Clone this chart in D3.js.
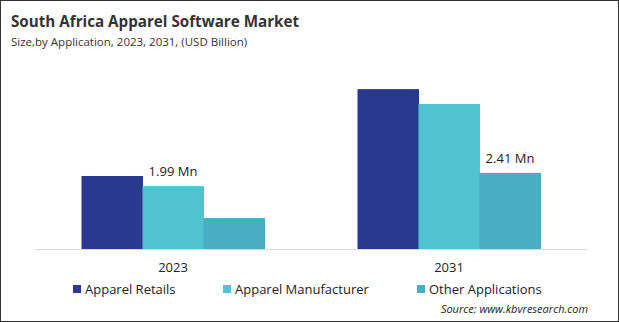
<!DOCTYPE html>
<html>
<head>
<meta charset="utf-8">
<script src="https://cdn.jsdelivr.net/npm/d3@7"></script>
<style>
  html, body { margin: 0; padding: 0; background: #fff; }
  svg { display: block; font-family: "Open Sans", "Noto Sans", sans-serif; }
</style>
</head>
<body>
<div id="chart"></div>
<script>
// Chart data
const years = ['2023', '2031']
const series = ['Apparel Retails', 'Apparel Manufacturer', 'Other Applications']
const colors = ['#293a8e', '#4fc4d0', '#49adc4']
const retails = [2.31, 5.06]
const manufacturer = [1.99, 4.59]
const other = [0.98, 2.41]
// value labels shown on the chart: [yearIndex, seriesIndex, text]
const valueLabels = [[0, 1, '1.99 Mn'], [1, 2, '2.41 Mn']]

const W = 619, H = 322
const values = [retails, manufacturer, other]

const svg = d3.select('#chart').append('svg')
  .attr('width', W).attr('height', H)

svg.append('rect')
  .attr('x', 0.5).attr('y', 0.5).attr('width', W - 1).attr('height', H - 1)
  .attr('fill', '#fff').attr('stroke', '#333')

// Title
svg.append('text').attr('x', 11).attr('y', 27)
  .attr('fill', '#333').style('font-size', '15.2px').style('font-weight', '700')
  .text('South Africa Apparel Software Market')
svg.append('text').attr('x', 11).attr('y', 46)
  .attr('fill', '#333').style('font-size', '11.5px')
  .text('Size,by Application, 2023, 2031, (USD Billion)')

const x0 = d3.scaleBand().domain(years).range([35, 587]).paddingInner(0.337).paddingOuter(0.1685)
const x1 = d3.scaleBand().domain(series).range([0, x0.bandwidth()])
const y = d3.scaleLinear().domain([0, 6]).range([249, 249 - 6 * 31.6])

// Baseline
svg.append('line')
  .attr('x1', 35).attr('x2', 587).attr('y1', y(0) + 0.5).attr('y2', y(0) + 0.5)
  .attr('stroke', '#d9d9d9')

const groups = svg.selectAll('g.year').data(years).join('g')
  .attr('class', 'year')
  .attr('transform', d => `translate(${x0(d)},0)`)

groups.selectAll('rect').data((d, i) => series.map((s, si) => ({ s, si, v: values[si][i] })))
  .join('rect')
  .attr('x', d => x1(d.s))
  .attr('width', x1.bandwidth() + 0.5)
  .attr('y', d => y(d.v))
  .attr('height', d => y(0) - y(d.v))
  .attr('fill', d => colors[d.si])

valueLabels.forEach(([yi, si, txt]) => {
  svg.append('text')
    .attr('x', x0(years[yi]) + x1(series[si]) + x1.bandwidth() / 2)
    .attr('y', y(values[si][yi]) - 10)
    .attr('text-anchor', 'middle').attr('fill', '#222')
    .style('font-size', '13px')
    .text(txt)
})

// Category axis labels
const xAxis = svg.append('g').attr('transform', `translate(0,${y(0)})`)
  .call(d3.axisBottom(x0).tickSize(0).tickPadding(14))
xAxis.select('.domain').remove()
xAxis.selectAll('text').attr('fill', '#222').style('font-size', '13px')
  .style('font-family', '"Open Sans", "Noto Sans", sans-serif')

// Legend
const legendX = [73, 223, 417]
series.forEach((s, i) => {
  const g = svg.append('g').attr('transform', `translate(${legendX[i]},289)`)
  g.append('rect').attr('x', 0).attr('y', -4).attr('width', 8).attr('height', 8).attr('fill', colors[i])
  g.append('text').attr('x', 12).attr('y', 0).attr('dominant-baseline', 'central')
    .attr('fill', '#222').style('font-size', '13px').text(s)
})

// Source
svg.append('text').attr('x', 588).attr('y', 313)
  .attr('text-anchor', 'end').attr('fill', '#222')
  .style('font-size', '11px').style('font-style', 'italic')
  .text('Source: www.kbvresearch.com')
</script>
</body>
</html>
